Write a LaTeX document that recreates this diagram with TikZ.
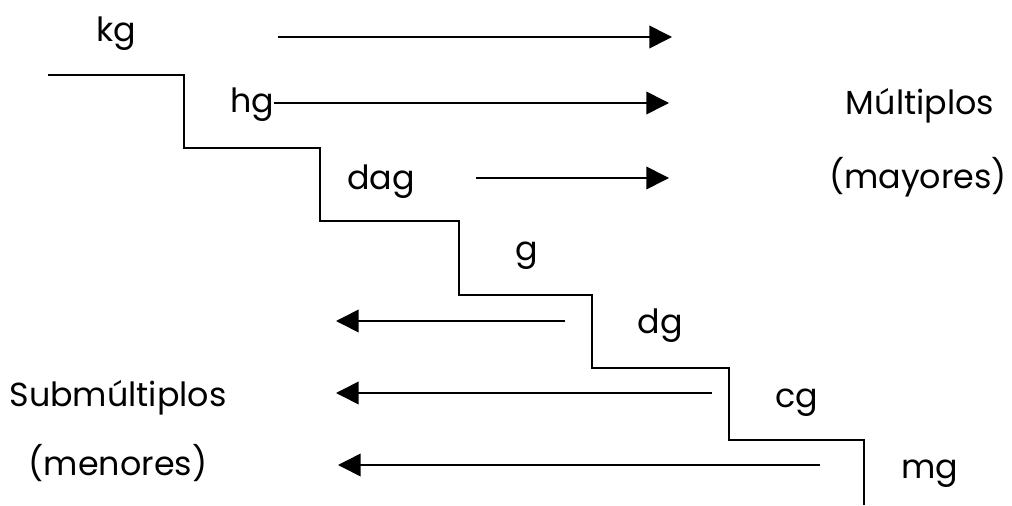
\documentclass[tikz,border=0pt]{standalone}
\usepackage{fontspec}
\setmainfont{Poppins}
\usetikzlibrary{arrows.meta}
\begin{document}
\begin{tikzpicture}[x=0.75pt,y=-0.75pt,
  lbl/.style={font=\fontsize{25}{30}\selectfont, inner sep=0pt, anchor=base},
  stair/.style={line width=1.5pt},
  arr/.style={line width=1.2pt, -{Triangle[length=17pt,width=17pt]}}]
\useasboundingbox (0,0) rectangle (1012,506);
% labels
\node[lbl] (kg) at (116,42) {kg};
\node[lbl] (hg) at (252,113) {hg};
\node[lbl] (dag) at (381,189) {dag};
\node[lbl] (g) at (527,260) {g};
\node[lbl] (dg) at (660,333) {dg};
\node[lbl] (cg) at (797,407) {cg};
\node[lbl] (mg) at (930,478) {mg};
\node[lbl] (mult) at (920,115) {Múltiplos};
\node[lbl] (may) at (918,188) {(mayores)};
\node[lbl] (sub) at (118,406) {Submúltiplos};
\node[lbl] (men) at (118,475) {(menores)};
% stair
\draw[stair] (48,75) -- (184,75) -- (184,148) -- (320,148) -- (320,221) -- (459,221)
  -- (459,295) -- (592,295) -- (592,368) -- (729,368) -- (729,440) -- (864,440) -- (864,505);
% arrow endpoints
\coordinate (a1s) at (278,37);  \coordinate (a1e) at (672,37);
\coordinate (a2e) at (669,103);
\coordinate (a3s) at (476,178); \coordinate (a3e) at (669,178);
\coordinate (b1s) at (565,321); \coordinate (b1e) at (336,321);
\coordinate (b2s) at (712,393); \coordinate (b2e) at (336,393);
\coordinate (b3s) at (820,465); \coordinate (b3e) at (338,465);
\draw[arr] (a1s) -- (a1e);
\draw[arr] (hg.east |- a2e) -- (a2e);
\draw[arr] (a3s) -- (a3e);
\draw[arr] (b1s) -- (b1e);
\draw[arr] (b2s) -- (b2e);
\draw[arr] (b3s) -- (b3e);
\end{tikzpicture}
\end{document}
